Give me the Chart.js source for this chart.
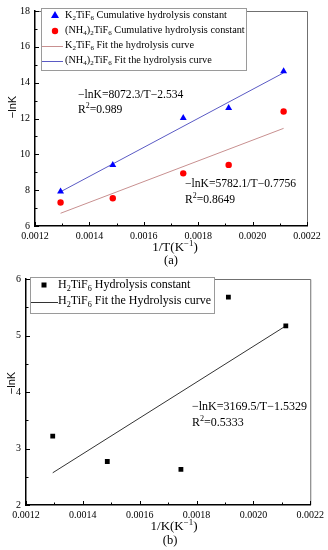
<!DOCTYPE html>
<html><head><meta charset="utf-8">
<script src="https://cdn.jsdelivr.net/npm/chart.js@4.4.1/dist/chart.umd.min.js"></script>
<style>
body{margin:0;background:#fff;width:328px;height:550px;position:relative;overflow:hidden}
canvas{position:absolute;left:0}
#ca{top:0}#cb{top:268px}
</style></head><body>
<canvas id="ca" width="328" height="268"></canvas>
<canvas id="cb" width="328" height="282"></canvas>
<script>
// ---- data (a) ----
const invT = [0.001294, 0.001486, 0.001745, 0.001912, 0.002114];
const k2Cum = [7.93, 9.41, 12.03, 12.58, 14.64];
const nh4Cum = [7.31, 7.55, 8.94, 9.41, 12.39];
const fitX = [0.001294, 0.002114];
const k2Fit = [6.71, 11.45];      // pink line (legend: K2TiF6 fit)
const nh4Fit = [7.91, 14.55];     // blue line (legend: (NH4)2TiF6 fit)
// ---- data (b) ----
const invK = [0.001294, 0.001486, 0.001745, 0.001912, 0.002114];
const h2Hyd = [3.22, 2.77, 2.63, 5.68, 5.17];
const h2Fit = [2.57, 5.17];
// ---- ticks ----
const xTicks = [0.0012, 0.0014, 0.0016, 0.0018, 0.0020, 0.0022];
const yTicksA = [6, 8, 10, 12, 14, 16, 18];
const yTicksB = [2, 3, 4, 5, 6];

const SERIF = '"Liberation Serif","Times New Roman",serif';
const SANS = '"Liberation Sans",Arial,sans-serif';
const pts = (xs, ys) => xs.map((x, i) => ({x, y: ys[i]}));

function richWidth(ctx, parts, size, fam) {
  let w = 0;
  for (const [t, m] of parts) { ctx.font = (m ? size * 0.68 : size) + 'px ' + fam; w += ctx.measureText(t).width; }
  return w;
}
function rich(ctx, parts, x, y, size, fam, align) {
  ctx.save();
  ctx.textBaseline = 'middle'; ctx.textAlign = 'left'; ctx.fillStyle = '#000';
  if (align === 'center') x -= richWidth(ctx, parts, size, fam) / 2;
  for (const [t, m] of parts) {
    ctx.font = (m ? size * 0.68 : size) + 'px ' + fam;
    const dy = m === 1 ? size * 0.3 : (m === 2 ? -size * 0.35 : 0);
    ctx.fillText(t, x, y + dy);
    x += ctx.measureText(t).width;
  }
  ctx.restore();
}

function makeChart(id, cfg) {
  const frameTicks = {
    id: 'frameTicks',
    afterDraw(chart) {
      const ctx = chart.ctx, a = chart.chartArea, xs = chart.scales.x, ys = chart.scales.y;
      ctx.save();
      ctx.strokeStyle = '#707070'; ctx.lineWidth = 1;
      ctx.beginPath(); ctx.moveTo(a.left, a.top + 0.5); ctx.lineTo(a.right + 0.5, a.top + 0.5); ctx.lineTo(a.right + 0.5, a.bottom); ctx.stroke();
      ctx.strokeStyle = '#000'; ctx.lineWidth = 1;
      ctx.beginPath();
      for (let i = 0; i <= 10; i++) {
        const v = 0.0012 + i * 0.0001;
        const px = Math.round(xs.getPixelForValue(v)) + 0.5;
        const len = i % 2 === 0 ? 4 : 2.5;
        ctx.moveTo(px, a.bottom); ctx.lineTo(px, a.bottom - len);
      }
      const yt = cfg.yTicks, half = (yt[1] - yt[0]) / 2;
      for (let v = yt[0]; v <= yt[yt.length - 1] + 1e-9; v += half) {
        const py = Math.round(ys.getPixelForValue(v)) + 0.5;
        const major = Math.abs(((v - yt[0]) / (2 * half)) - Math.round((v - yt[0]) / (2 * half))) < 1e-6;
        ctx.moveTo(a.left, py); ctx.lineTo(a.left + (major ? 4 : 2.5), py);
      }
      ctx.stroke();
      ctx.restore();
      cfg.draw(ctx, a);
    }
  };
  return new Chart(document.getElementById(id), {
    type: 'scatter',
    data: {datasets: cfg.datasets},
    options: {
      responsive: false, animation: false,
      layout: {padding: {left: 0, top: 7, right: cfg.padR, bottom: 0}},
      plugins: {legend: {display: false}, tooltip: {enabled: false}},
      scales: {
        x: {
          type: 'linear', min: 0.0012, max: 0.0022,
          afterBuildTicks: s => { s.ticks = xTicks.map(v => ({value: v})); },
          afterFit: s => { s.height = cfg.xH; },
          grid: {display: false, drawTicks: false},
          border: {display: true, color: '#000', width: 1.5},
          ticks: {padding: 4, color: '#000', font: {family: SERIF, size: 10}, callback: v => Number(v).toFixed(4)}
        },
        y: {
          type: 'linear', min: cfg.yTicks[0], max: cfg.yTicks[cfg.yTicks.length - 1],
          afterBuildTicks: s => { s.ticks = cfg.yTicks.map(v => ({value: v})); },
          afterFit: s => { s.width = cfg.yW; },
          grid: {display: false, drawTicks: false},
          border: {display: true, color: '#000', width: 1.5},
          ticks: {padding: 5, color: '#000', font: {family: SERIF, size: 10}}
        }
      }
    },
    plugins: [frameTicks]
  });
}

function legendBox(ctx, x, y, w, h) {
  ctx.save();
  ctx.fillStyle = '#fff'; ctx.fillRect(x, y, w, h);
  ctx.strokeStyle = '#9a9a9a'; ctx.lineWidth = 1; ctx.strokeRect(x + 0.5, y + 0.5, w, h);
  ctx.restore();
}

// ---- chart (a) ----
makeChart('ca', {
  padR: 21, xH: 42, yW: 35, yTicks: yTicksA,
  datasets: [
    {data: pts(invT, k2Cum), pointStyle: 'triangle', pointRadius: 4, backgroundColor: '#0000ff', borderColor: '#0000ff', borderWidth: 0},
    {data: pts(invT, nh4Cum), pointStyle: 'circle', pointRadius: 3.2, backgroundColor: '#ff0000', borderColor: '#ff0000', borderWidth: 0},
    {data: pts(fitX, k2Fit), showLine: true, pointRadius: 0, borderColor: '#c89090', borderWidth: 1},
    {data: pts(fitX, nh4Fit), showLine: true, pointRadius: 0, borderColor: '#5a5ac4', borderWidth: 1}
  ],
  draw(ctx, a) {
    legendBox(ctx, 41, 8, 205, 62);
    ctx.save();
    ctx.fillStyle = '#0000ff';
    ctx.beginPath(); ctx.moveTo(55, 11); ctx.lineTo(59, 18); ctx.lineTo(51, 18); ctx.closePath(); ctx.fill();
    ctx.fillStyle = '#ff0000';
    ctx.beginPath(); ctx.arc(55, 31, 3.2, 0, Math.PI * 2); ctx.fill();
    ctx.lineWidth = 1;
    ctx.strokeStyle = '#c89090'; ctx.beginPath(); ctx.moveTo(42, 46.5); ctx.lineTo(63, 46.5); ctx.stroke();
    ctx.strokeStyle = '#5a5ac4'; ctx.beginPath(); ctx.moveTo(42, 61.5); ctx.lineTo(63, 61.5); ctx.stroke();
    ctx.restore();
    const L = 10.3, F = 11.6;
    rich(ctx, [['K', 0], ['2', 1], ['TiF', 0], ['6', 1], [' Cumulative hydrolysis constant', 0]], 65, 15, L, SERIF);
    rich(ctx, [['(NH', 0], ['4', 1], [')', 0], ['2', 1], ['TiF', 0], ['6', 1], [' Cumulative hydrolysis constant', 0]], 65, 30, L, SERIF);
    rich(ctx, [['K', 0], ['2', 1], ['TiF', 0], ['6', 1], [' Fit the hydrolysis curve', 0]], 65, 45, L, SERIF);
    rich(ctx, [['(NH', 0], ['4', 1], [')', 0], ['2', 1], ['TiF', 0], ['6', 1], [' Fit the hydrolysis curve', 0]], 65, 60, L, SERIF);
    rich(ctx, [['\u2212lnK=8072.3/T\u22122.534', 0]], 78, 95, F, SERIF);
    rich(ctx, [['R', 0], ['2', 2], ['=0.989', 0]], 78, 110, F, SERIF);
    rich(ctx, [['\u2212lnK=5782.1/T\u22120.7756', 0]], 185, 184, F, SERIF);
    rich(ctx, [['R', 0], ['2', 2], ['=0.8649', 0]], 185, 200, F, SERIF);
    rich(ctx, [['1/T(K', 0], ['\u22121', 2], [')', 0]], 175, 248, 13, SERIF, 'center');
    rich(ctx, [['(a)', 0]], 171, 261, 12.5, SERIF, 'center');
    ctx.save();
    ctx.translate(13, 107); ctx.rotate(-Math.PI / 2);
    ctx.font = '11px ' + SANS; ctx.textAlign = 'center'; ctx.textBaseline = 'middle'; ctx.fillStyle = '#000';
    ctx.fillText('\u2212lnK', 0, 0);
    ctx.restore();
  }
});

// ---- chart (b) ----
makeChart('cb', {
  padR: 16, xH: 45, yW: 26, yTicks: yTicksB,
  datasets: [
    {data: pts(invK, h2Hyd), pointStyle: 'rect', pointRadius: 3.4, backgroundColor: '#000', borderColor: '#000', borderWidth: 0},
    {data: pts(fitX, h2Fit), showLine: true, pointRadius: 0, borderColor: '#333', borderWidth: 1}
  ],
  draw(ctx, a) {
    legendBox(ctx, 30, 9, 184, 36);
    ctx.save();
    ctx.fillStyle = '#000'; ctx.fillRect(41.5, 14.5, 5, 5);
    ctx.strokeStyle = '#333'; ctx.lineWidth = 1;
    ctx.beginPath(); ctx.moveTo(31, 34.5); ctx.lineTo(58, 34.5); ctx.stroke();
    ctx.restore();
    const F = 12;
    rich(ctx, [['H', 0], ['2', 1], ['TiF', 0], ['6', 1], [' Hydrolysis constant', 0]], 58, 17, F, SERIF);
    rich(ctx, [['H', 0], ['2', 1], ['TiF', 0], ['6', 1], [' Fit the Hydrolysis curve', 0]], 58, 33, F, SERIF);
    rich(ctx, [['\u2212lnK=3169.5/T\u22121.5329', 0]], 192, 139, F, SERIF);
    rich(ctx, [['R', 0], ['2', 2], ['=0.5333', 0]], 192, 155, F, SERIF);
    rich(ctx, [['1/K(K', 0], ['\u22121', 2], [')', 0]], 174, 259, 13, SERIF, 'center');
    rich(ctx, [['(b)', 0]], 170, 273, 12.5, SERIF, 'center');
    ctx.save();
    ctx.translate(12, 115); ctx.rotate(-Math.PI / 2);
    ctx.font = '11px ' + SANS; ctx.textAlign = 'center'; ctx.textBaseline = 'middle'; ctx.fillStyle = '#000';
    ctx.fillText('\u2212lnK', 0, 0);
    ctx.restore();
  }
});
</script>
</body></html>
